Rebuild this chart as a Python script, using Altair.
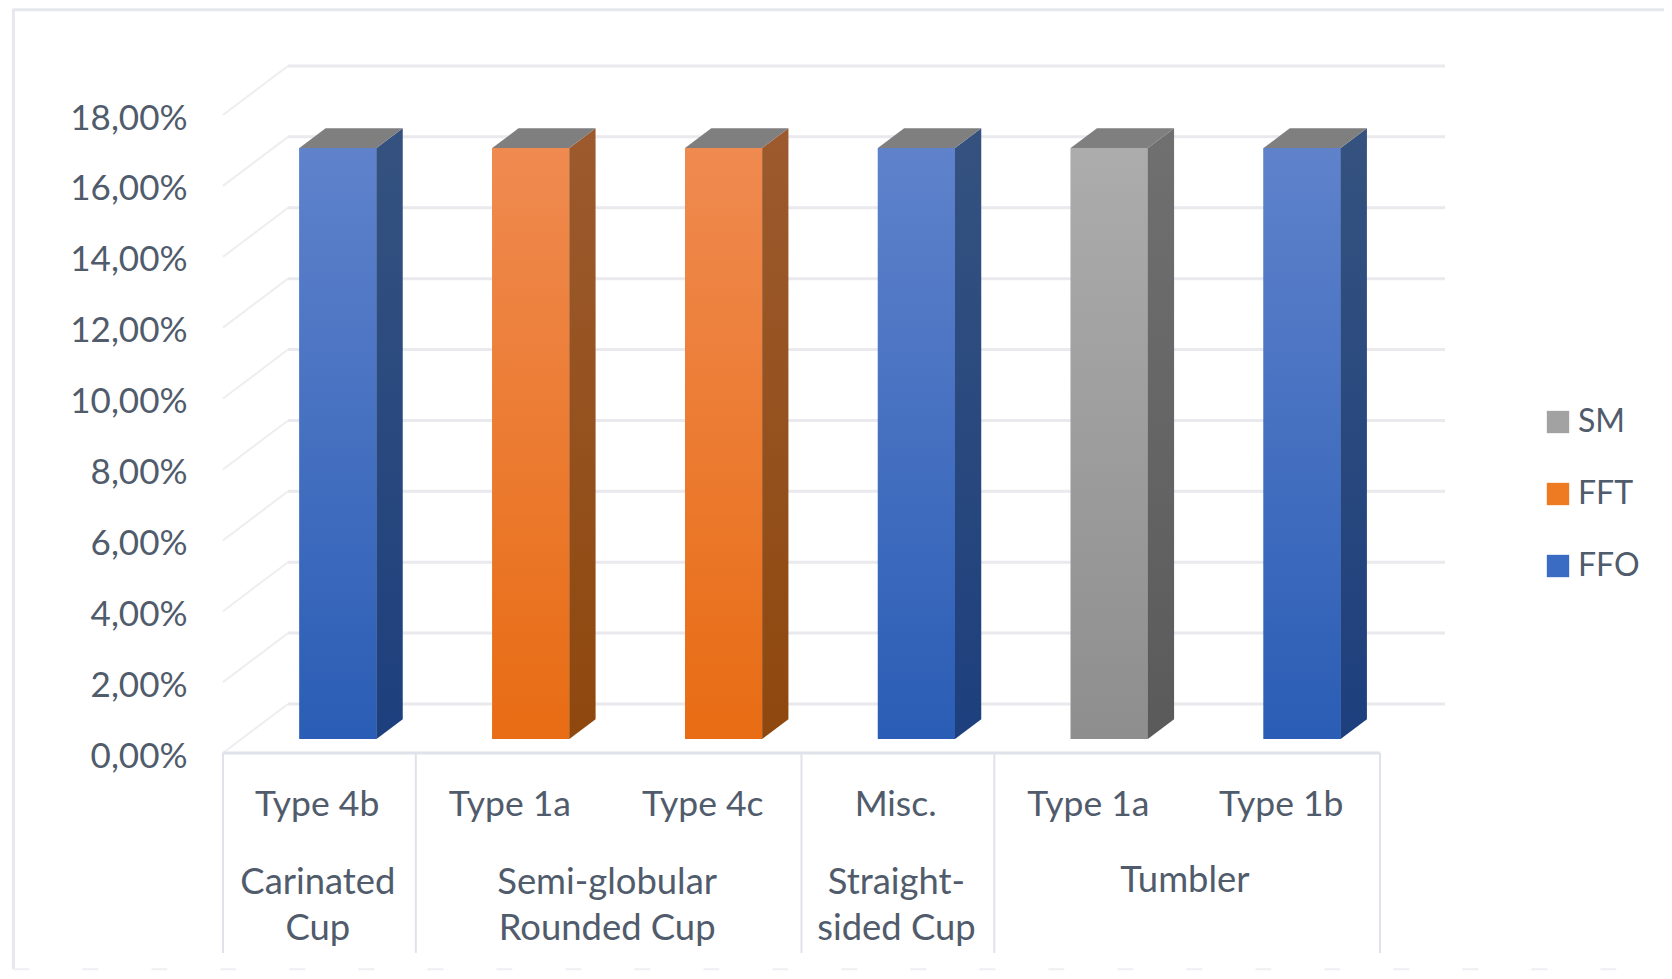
import altair as alt
import pandas as pd

# ---- values
types = ["Type 4b", "Type 1a", "Type 4c", "Misc.", "Type 1a", "Type 1b"]
series = ["FFO", "FFT", "FFT", "FFO", "SM", "FFO"]
values = [16.67, 16.67, 16.67, 16.67, 16.67, 16.67]
group_lines = [
    ("Carinated", 0, 0), ("Cup", 0, 1),
    ("Semi-globular", 1.5, 0), ("Rounded Cup", 1.5, 1),
    ("Straight-", 3, 0), ("sided Cup", 3, 1),
]
single_groups = [("Tumbler", 4.5)]
y_ticks = [0, 2, 4, 6, 8, 10, 12, 14, 16, 18]
dividers = [-0.5, 0.5, 2.5, 3.5, 5.5]
legend_order = ["SM", "FFT", "FFO"]
legend_colors = ["#a2a2a2", "#ee7a22", "#3a6cc4"]

front_stops = {
    "FFO": ("#5f82cb", "#2a5db5"),
    "FFT": ("#ef8a50", "#e86c13"),
    "SM": ("#acacac", "#8e8e8e"),
}
side_stops = {
    "FFO": ("#35527f", "#1d3f7d"),
    "FFT": ("#9c5a2e", "#8e480e"),
    "SM": ("#707070", "#5a5a5a"),
}
top_color = "#7f7f7f"
grid_color = "#e9e9ee"
diag_color = "#eeeef1"
axis_line_color = "#dfe2ea"
text_color = "#505b6b"
font = "Lato"
fs = 35.5

# ---- depth of the fake perspective, in data units
wall_dx, wall_dy = 0.337, 1.383
bar_offset, bar_half = 0.096, 0.2
front_t, back_t = 0.286, 0.69
bar_dx = (back_t - front_t) * wall_dx
bar_dy = (back_t - front_t) * wall_dy
base_y = front_t * wall_dy

x_scale = alt.Scale(domain=[-0.5, 5.5], range=[0, 1157], nice=False, zero=False)
y_scale = alt.Scale(domain=[0, 18], range=[638, 0], nice=False, zero=False)
X = lambda f: alt.X(f, type="quantitative", scale=x_scale, axis=None)


def Y(f, axis=None):
    return alt.Y(f, type="quantitative", scale=y_scale, axis=axis, title=None)


bars = pd.DataFrame({
    "i": range(6), "type": types, "series": series, "value": values,
})
bars["l"] = bars.i + bar_offset - bar_half
bars["r"] = bars.i + bar_offset + bar_half
bars["base"] = base_y
bars["top"] = base_y + bars.value

# walls
walls = pd.DataFrame({
    "v": y_ticks,
    "vb": [t + wall_dy for t in y_ticks],
    "x0": [-0.5 + wall_dx] * len(y_ticks),
    "x1": [5.5 + wall_dx] * len(y_ticks),
})
back = alt.Chart(walls).mark_rule(color=grid_color, strokeWidth=3).encode(
    x=X("x0"), x2="x1", y=Y("vb"))

diag_rows = []
for t in y_ticks:
    diag_rows.append({"t": t, "u": -0.5, "v": t})
    diag_rows.append({"t": t, "u": -0.5 + wall_dx, "v": t + wall_dy})
diag = alt.Chart(pd.DataFrame(diag_rows)).mark_line(color=diag_color, strokeWidth=2).encode(
    x=X("u"), y=Y("v"), detail="t:N")

# real y axis carrying the tick labels
y_axis = alt.Axis(
    values=y_ticks, labelExpr="replace(format(datum.value, '.2f'), '.', ',') + '%'",
    domain=False, ticks=False, grid=False, labelPadding=36, labelFont=font,
    labelFontSize=35, labelColor=text_color, labelBaseline="middle", labelOffset=3,
)
axis_holder = alt.Chart(walls).mark_point(opacity=0).encode(
    x=X("x0"), y=Y("v", axis=y_axis))

floor_line = alt.Chart(pd.DataFrame({"a": [-0.5], "b": [5.5], "v": [0]})).mark_rule(
    color=axis_line_color, strokeWidth=3).encode(x=X("a"), x2="b", y=Y("v"))

div_df = pd.DataFrame({"u": dividers, "v0": [0] * len(dividers), "v1": [-5.64] * len(dividers)})
div = alt.Chart(div_df).mark_rule(color=axis_line_color, strokeWidth=2).encode(
    x=X("u"), y=Y("v0"), y2="v1")

# legend-carrying flat layer under the gradients
flat = alt.Chart(bars).mark_rect().encode(
    x=X("l"), x2="r", y=Y("base"), y2="top",
    color=alt.Color("series:N", scale=alt.Scale(domain=legend_order, range=legend_colors),
                    legend=alt.Legend(
                        title=None, orient="none", legendX=1319, legendY=291,
                        symbolType="square", symbolSize=500, symbolStrokeWidth=0,
                        labelFont=font, labelFontSize=32, labelColor=text_color,
                        rowPadding=40, labelOffset=4, symbolOpacity=1,
                    )),
)


def grad(a, b):
    return alt.Gradient(gradient="linear", stops=[
        alt.GradientStop(color=a, offset=0), alt.GradientStop(color=b, offset=1)],
        x1=0, x2=0, y1=0, y2=1)


layers = [axis_holder, back, diag, floor_line, div, flat]

for s in ["FFO", "FFT", "SM"]:
    d = bars[bars.series == s]
    layers.append(alt.Chart(d).mark_rect(color=grad(*front_stops[s])).encode(
        x=X("l"), x2="r", y=Y("base"), y2="top"))
    rows = []
    for _, b in d.iterrows():
        rows.append({"i": b.i, "u": b.r, "lo": b.base, "hi": b.top})
        rows.append({"i": b.i, "u": b.r + bar_dx, "lo": b.base + bar_dy, "hi": b.top + bar_dy})
    layers.append(alt.Chart(pd.DataFrame(rows)).mark_area(color=grad(*side_stops[s])).encode(
        x=X("u"), y=Y("lo"), y2="hi", detail="i:N"))

top_rows = []
for _, b in bars.iterrows():
    top_rows.append({"i": b.i, "v": b.top, "a": b.l, "c": b.r})
    top_rows.append({"i": b.i, "v": b.top + bar_dy, "a": b.l + bar_dx, "c": b.r + bar_dx})
layers.append(alt.Chart(pd.DataFrame(top_rows)).mark_area(orient="horizontal", color=top_color).encode(
    y=Y("v"), x=X("a"), x2="c", detail="i:N"))

# multi-level category labels
type_df = pd.DataFrame({"u": [i - 0.012 for i in range(6)], "t": types, "v": [-1.47] * 6})
group_df = pd.DataFrame({
    "u": [g[1] - 0.008 for g in group_lines] + [g[1] - 0.012 for g in single_groups],
    "t": [g[0] for g in group_lines] + [g[0] for g in single_groups],
    "v": [-3.67 if g[2] == 0 else -4.96 for g in group_lines] + [-3.6 for g in single_groups],
})
text_kw = dict(font=font, color=text_color, align="center", baseline="middle")
layers.append(alt.Chart(type_df).mark_text(fontSize=fs, **text_kw).encode(x=X("u"), y=Y("v"), text="t:N"))
layers.append(alt.Chart(group_df).mark_text(fontSize=36.4, **text_kw).encode(x=X("u"), y=Y("v"), text="t:N"))

# picture frame
frame = pd.DataFrame({"u": [-1.587], "v0": [21.0], "v1": [-6.1]})
layers.append(alt.Chart(frame).mark_rule(color="#e6e8ee", strokeWidth=3).encode(
    x=X("u"), y=Y("v0"), y2="v1"))
frame_top = pd.DataFrame({"a": [-1.587], "b": [7.0], "v": [20.97]})
layers.append(alt.Chart(frame_top).mark_rule(color="#e6e8ee", strokeWidth=3).encode(
    x=X("a"), x2="b", y=Y("v")))
frame_bottom = pd.DataFrame({"a": [-1.587], "b": [7.0], "v": [-6.1]})
layers.append(alt.Chart(frame_bottom).mark_rule(color="#eeeff3", strokeWidth=2, strokeDash=[16, 53]).encode(
    x=X("a"), x2="b", y=Y("v")))

chart = alt.layer(*layers).resolve_scale(x="shared", y="shared").resolve_axis(y="independent").properties(
    width=1157, height=638,
    autosize=alt.AutoSizeParams(type="none"),
    padding={"left": 215, "top": 107, "right": 284, "bottom": 218},
    background="white",
).configure_view(stroke=None)

chart.save("out.html", embed_options={"renderer": "svg", "actions": False})
